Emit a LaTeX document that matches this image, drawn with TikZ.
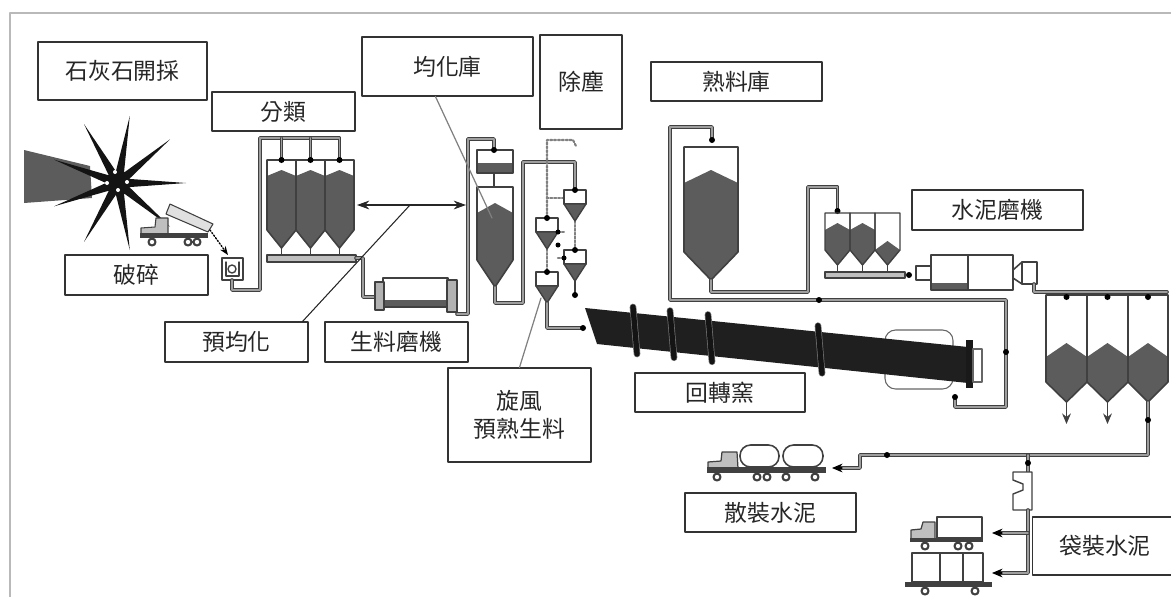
\documentclass[tikz,border=0pt]{standalone}
\usepackage{fontspec}
\newfontfamily\cjk{Noto Sans CJK TC}
\usepackage{xcolor}
\definecolor{plantGray}{gray}{0.36}
\definecolor{pipeDark}{gray}{0.25}
\usepackage{tikz}
\usetikzlibrary{arrows.meta, calc}

\begin{document}
\begin{tikzpicture}[x=0.02cm, y=-0.02cm, style={line cap=round, line join=round},
  lbl/.style={draw=black!80, line width=0.7pt, font=\cjk\fontsize{13}{16}\selectfont, text=black!85, inner sep=0pt, align=center},
  pipe/.style={draw=pipeDark, line width=0.5pt, double=black!38, double distance=1.1pt},
  eq/.style={draw=pipeDark, line width=0.9pt, fill=white},
  lead/.style={draw=black!85, line width=0.6pt},
  glead/.style={draw=black!50, line width=0.7pt}]

  \useasboundingbox (0,0) rectangle (1171,596);
  \draw[gray!55, line width=1.6pt] (10,600) -- (10,13) -- (1180,13);

  % labels
  \node[lbl, minimum width=3.38cm, minimum height=1.16cm] (quarry) at (122.5,71) {石灰石開採};
  \node[lbl, minimum width=2.86cm, minimum height=0.78cm] (sorting) at (283.5,111.5) {分類};
  \node[lbl, minimum width=2.86cm, minimum height=0.8cm] (crushing) at (136.5,275) {破碎};
  \node[lbl, minimum width=2.86cm, minimum height=0.8cm] (preblend) at (236.5,342) {預均化};
  \node[lbl, minimum width=2.86cm, minimum height=0.8cm] (rawmill) at (396.5,342) {生料磨機};
  \node[lbl, minimum width=3.42cm, minimum height=1.18cm] (homsilo) at (447.5,66.5) {均化庫};
  \node[lbl, minimum width=1.64cm, minimum height=1.88cm] (dedust) at (581,82) {除塵};
  \node[lbl, minimum width=3.42cm, minimum height=0.78cm] (clinker) at (736.5,81.5) {熟料庫};
  \node[lbl, minimum width=3.42cm, minimum height=0.8cm] (cemmill) at (997.5,210) {水泥磨機};
  \node[lbl, minimum width=3.4cm, minimum height=0.78cm] (kiln) at (720,392.5) {回轉窯};
  \node[lbl, minimum width=2.86cm, minimum height=1.88cm] (cyclone) at (519.5,415) {旋風\\預熟生料};
  \node[lbl, minimum width=3.42cm, minimum height=0.78cm] (bulk) at (770.5,512.5) {散裝水泥};
  \node[lbl, minimum width=2.9cm, minimum height=1.16cm] (bagged) at (1105,546) {袋裝水泥};

  % quarry and blast
  \fill[plantGray] (24,150) -- (90,166) -- (92,198) -- (24,203) -- cycle;
  \fill[black!92] (129.8,116) -- (115.9,171.2) -- (84,124.1) -- (108.8,175.3) -- (54.1,159.7) -- (106,183)
    -- (54.1,206.3) -- (108.8,190.7) -- (84,241.9) -- (115.9,194.8) -- (129.8,250) -- (124,193.4)
    -- (170.1,226.7) -- (129.3,187.1) -- (186,183) -- (129.3,178.9) -- (170.1,139.3) -- (124,172.6) -- cycle;
  \fill[white] (115,172) circle (2) (107,183) circle (2) (127,182) circle (2) (118,190) circle (2);

  % dump truck and crusher
  \draw[eq, fill=black!12, line width=0.6pt] (166,214) -- (170,204) -- (213,224) -- (208,232) -- cycle;
  \draw[eq, fill=black!25, line width=0.6pt] (141,233) -- (141,228) -- (155,227) -- (156,218) -- (168,218) -- (168,233);
  \fill[pipeDark] (140,233) rectangle (208,238);
  \draw[eq, line width=1.2pt] (152,242) circle (3.5) (188,242) circle (3.5) (197,242) circle (3.5);
  \draw[densely dotted, thick, ->, >={Stealth[length=5pt]}] (210,230) -- (228,255);
  \draw[eq, line width=0.8pt] (222,258) rectangle (243,280);
  \draw[pipeDark, line width=0.8pt] (226,262) -- (226,276) -- (239,276) -- (239,262);
  \draw[pipeDark, line width=0.8pt] (232,269) circle (4);

  % sorting silos
  \draw[pipe] (232,280) -- (232,290) -- (260,290) -- (260,138) -- (339.5,138) -- (339.5,160);
  \draw[pipe] (281.5,138) -- (281.5,160);
  \draw[pipe] (310.5,138) -- (310.5,160);
  \fill[plantGray] (267,176) -- (281.5,170) -- (296,176) -- (296,230) -- (281.5,248) -- (267,230) -- cycle;
  \fill[plantGray] (296,176) -- (310.5,170) -- (325,176) -- (325,230) -- (310.5,248) -- (296,230) -- cycle;
  \fill[plantGray] (325,176) -- (339.5,170) -- (354,176) -- (354,230) -- (339.5,248) -- (325,230) -- cycle;
  \draw[eq, fill=none] (267,160) -- (296,160) -- (296,230) -- (281.5,248) -- (267,230) -- cycle;
  \draw[eq, fill=none] (296,160) -- (325,160) -- (325,230) -- (310.5,248) -- (296,230) -- cycle;
  \draw[eq, fill=none] (325,160) -- (354,160) -- (354,230) -- (339.5,248) -- (325,230) -- cycle;
  \fill (281.5,160) circle (3) (310.5,160) circle (3) (339.5,160) circle (3);
  \draw[pipeDark, line width=0.8pt] (281.5,248) -- (281.5,255) (310.5,248) -- (310.5,255) (339.5,248) -- (339.5,255);
  \draw[eq, fill=black!25, line width=0.7pt] (267,255) rectangle (356,262);

  % raw mill
  \draw[pipe] (356,258) -- (363,258) -- (363,297) -- (375,297);
  \draw[eq] (383,278) rectangle (448,307);
  \fill[plantGray] (384,300) rectangle (447,306);
  \draw[eq, fill=black!30] (375,282) rectangle (384,310);
  \draw[eq, fill=black!30] (447,280) rectangle (457,312);

  % homogenising silo
  \draw[pipe] (457,314) -- (468,314) -- (468,139) -- (494,139) -- (494,150);
  \draw[eq] (477,150) rectangle (513,173);
  \fill[plantGray] (478,163) rectangle (512,172);
  \draw[pipeDark, line width=0.8pt] (494,173) -- (494,187);
  \fill (494,150) circle (3);
  \fill[plantGray] (477,213) -- (495,203) -- (513,213) -- (513,260) -- (495,287) -- (477,260) -- cycle;
  \draw[eq, fill=none] (477,187) -- (513,187) -- (513,260) -- (495,287) -- (477,260) -- cycle;
  \draw[pipe] (495,287) -- (495,303) -- (523,303) -- (523,162) -- (575,162) -- (575,188);

  % cyclone preheater
  \draw[black!50, densely dotted, line width=1.2pt] (547,218) -- (547,140) -- (573,140) -- (576,146);
  \draw[black!50, densely dotted, line width=1.2pt] (564,198) -- (547,198);
  \draw[black!50, densely dotted, line width=1.2pt] (575,221) -- (575,250);
  \draw[black!50, densely dotted, line width=1.2pt] (547,249) -- (547,272);
  \draw[black!50, densely dotted, line width=1.2pt] (558,232) -- (564,232) (558,258) -- (564,258);
  \draw[eq, line width=0.8pt] (564,190) rectangle (586,204);
  \draw[eq, line width=0.8pt, fill=plantGray] (564,204) -- (586,204) -- (575,221) -- cycle;
  \draw[eq, line width=0.8pt] (536,218) rectangle (558,232);
  \draw[eq, line width=0.8pt, fill=plantGray] (536,232) -- (558,232) -- (547,249) -- cycle;
  \draw[eq, line width=0.8pt] (564,250) rectangle (586,264);
  \draw[eq, line width=0.8pt, fill=plantGray] (564,264) -- (586,264) -- (575,281) -- cycle;
  \draw[eq, line width=0.8pt] (536,272) rectangle (558,286);
  \draw[eq, line width=0.8pt, fill=plantGray] (536,286) -- (558,286) -- (547,303) -- cycle;
  \fill (575,190) circle (3) (547,218) circle (3) (575,250) circle (3) (547,272) circle (3);
  \fill (558,232) circle (2.5) (564,258) circle (2.5) (558,245) circle (2.5);
  \draw[pipeDark, line width=0.8pt] (575,281) -- (575,295);
  \fill (575,295) circle (3);
  \draw[pipe] (547,303) -- (547,328) -- (583,328);
  \fill (583,328) circle (3);

  % rotary kiln
  \draw[black!60, line width=0.6pt, fill=white, rounded corners=6] (885,330) rectangle (953,389);
  \fill[black!88] (585,308) -- (968,347) -- (968,383) -- (597,344) -- cycle;
  \draw[black!55, line width=0.4pt, double=black!92, double distance=3pt] (633,307) -- (637,354);
  \draw[black!55, line width=0.4pt, double=black!92, double distance=3pt] (670,310.6) -- (674,357.7);
  \draw[black!55, line width=0.4pt, double=black!92, double distance=3pt] (708,314.5) -- (712,361.7);
  \draw[black!55, line width=0.4pt, double=black!92, double distance=3pt] (818,325.7) -- (822,373.2);
  \fill[black!90] (966,340) rectangle (973,388);
  \draw[black!60, line width=0.7pt, fill=white] (973,349) rectangle (982,382);

  % clinker silo
  \draw[pipe] (955,397) -- (955,407) -- (1006,407) -- (1006,300) -- (670,300) -- (670,127) -- (712,127) -- (712,140);
  \fill (955,397) circle (3) (1006,352) circle (3) (819,300) circle (3) (712,140) circle (3);
  \fill[plantGray] (684,183) -- (711,170) -- (738,183) -- (738,252) -- (711,280) -- (684,252) -- cycle;
  \draw[eq, fill=none] (684,147) -- (738,147) -- (738,252) -- (711,280) -- (684,252) -- cycle;
  \draw[pipe] (711,280) -- (711,292) -- (808,292) -- (808,187) -- (837.5,187) -- (837.5,211);
  \fill (837.5,211) circle (3);

  % cement mill feed bins
  \fill[plantGray] (825,230) -- (837.5,223) -- (850,230) -- (850,250) -- (837.5,265) -- (825,250) -- cycle;
  \fill[plantGray] (850,230) -- (862.5,223) -- (875,230) -- (875,250) -- (862.5,265) -- (850,250) -- cycle;
  \fill[plantGray] (875,250) -- (887.5,241) -- (900,250) -- (887.5,265) -- cycle;
  \draw[eq, fill=none, line width=0.8pt] (825,213) -- (850,213) -- (850,250) -- (837.5,265) -- (825,250) -- cycle;
  \draw[eq, fill=none, line width=0.8pt] (850,213) -- (875,213) -- (875,250) -- (862.5,265) -- (850,250) -- cycle;
  \draw[eq, fill=none, line width=0.8pt] (875,213) -- (900,213) -- (900,250) -- (887.5,265) -- (875,250) -- cycle;
  \draw[pipeDark, line width=0.8pt] (837.5,265) -- (837.5,272) (862.5,265) -- (862.5,272) (887.5,265) -- (887.5,272);
  \draw[eq, fill=black!25, line width=0.7pt] (825,272) rectangle (905,278);
  \fill (909,275) circle (3);

  % cement mill
  \draw[eq] (916,266) rectangle (931,280);
  \draw[eq] (931,255) rectangle (1013,290);
  \fill[plantGray] (932,283) rectangle (968,289);
  \draw[pipeDark, line width=0.9pt] (968,255) -- (968,290);
  \draw[eq] (1013,270) -- (1022,262) -- (1037,262) -- (1037,284) -- (1022,284) -- (1013,278) -- cycle;
  \draw[pipeDark, line width=0.8pt] (1022,262) -- (1022,284);

  % cement silos
  \draw[pipe] (1034,284) -- (1034,292) -- (1167,292);
  \fill[plantGray] (1046,357) -- (1066.5,343) -- (1087,357) -- (1087,382) -- (1066.5,402) -- (1046,382) -- cycle;
  \fill[plantGray] (1087,357) -- (1107.5,343) -- (1128,357) -- (1128,382) -- (1107.5,402) -- (1087,382) -- cycle;
  \fill[plantGray] (1128,357) -- (1148,343) -- (1168,357) -- (1168,382) -- (1148,402) -- (1128,382) -- cycle;
  \draw[eq, fill=none] (1046,295) -- (1087,295) -- (1087,382) -- (1066.5,402) -- (1046,382) -- cycle;
  \draw[eq, fill=none] (1087,295) -- (1128,295) -- (1128,382) -- (1107.5,402) -- (1087,382) -- cycle;
  \draw[eq, fill=none] (1128,295) -- (1168,295) -- (1168,382) -- (1148,402) -- (1128,382) -- cycle;
  \fill (1066.5,297) circle (3) (1107.5,297) circle (3) (1148,297) circle (3);
  \draw[pipeDark, line width=0.9pt, ->, >={Stealth[length=6pt, width=5pt]}] (1066.5,402) -- (1066.5,424);
  \draw[pipeDark, line width=0.9pt, ->, >={Stealth[length=6pt, width=5pt]}] (1107.5,402) -- (1107.5,424);

  % dispatch
  \draw[pipe] (1148,402) -- (1148,455) -- (860,455) -- (860,468) -- (838,468);
  \fill (1148,420) circle (3) (887,455) circle (3);
  \draw[black, line width=0.6pt, ->, >={Stealth[length=6pt, width=5pt]}] (842,468) -- (832,468);
  \draw[pipe] (1028,455) -- (1028,472);
  \fill (1028,463) circle (3);
  \draw[eq, line width=0.8pt] (1013,472) -- (1032,472) -- (1032,510) -- (1013,510) -- (1013,494) -- (1023,490) -- (1023,484) -- (1013,480) -- cycle;
  \draw[pipe] (1028,510) -- (1028,573) -- (998,573);
  \draw[pipe] (1028,533) -- (998,533);
  \draw[black, line width=0.6pt, ->, >={Stealth[length=6pt, width=5pt]}] (1002,533) -- (992,533);
  \draw[black, line width=0.6pt, ->, >={Stealth[length=6pt, width=5pt]}] (1002,573) -- (992,573);

  % tanker truck
  \draw[eq, fill=black!25, line width=0.7pt] (708,468) -- (708,462) -- (721,461) -- (722,452) -- (737,452) -- (738,468);
  \draw[eq, line width=0.9pt, rounded corners=6] (740,445) rectangle (779,467);
  \draw[eq, line width=0.9pt, rounded corners=6] (783,445) rectangle (823,467);
  \fill[pipeDark] (707,467) rectangle (826,473);
  \draw[eq, line width=1.2pt] (717,477) circle (3.5) (757,477) circle (3.5) (767,477) circle (3.5) (786,477) circle (3.5) (815,477) circle (3.5);

  % box truck and wagon
  \draw[eq, line width=0.9pt] (937,517) rectangle (982,538);
  \draw[eq, fill=black!25, line width=0.7pt] (911,538) -- (911,530) -- (921,529) -- (923,522) -- (935,522) -- (935,538);
  \fill[pipeDark] (910,538) rectangle (983,542);
  \draw[eq, line width=1.2pt] (925,546) circle (3.5) (958,546) circle (3.5) (969,546) circle (3.5);
  \draw[eq, line width=0.9pt] (912,553) rectangle (983,582);
  \draw[pipeDark, line width=0.9pt] (940,553) -- (940,582) (963,553) -- (963,582);
  \fill[pipeDark] (905,582) rectangle (992,587);
  \draw[eq, line width=1.2pt] (925,591) circle (3.5) (975,591) circle (3.5);

  % leaders
  \coordinate (pbmeet) at (410,205);
  \coordinate (sortin) at (357,205);
  \coordinate (homin) at (466,205);
  \coordinate (homfill) at (492,218);
  \coordinate (cycfeed) at (541,298);
  \draw[lead] ($(preblend.north east)+(-6,0)$) -- (pbmeet);
  \draw[lead, <->, >={Stealth[length=7pt, width=5pt]}] (sortin) -- (homin);
  \draw[glead] ($(homsilo.south)+(-12,0)$) -- (homfill);
  \draw[glead] (cyclone.north) -- (cycfeed);

\end{tikzpicture}
\end{document}
